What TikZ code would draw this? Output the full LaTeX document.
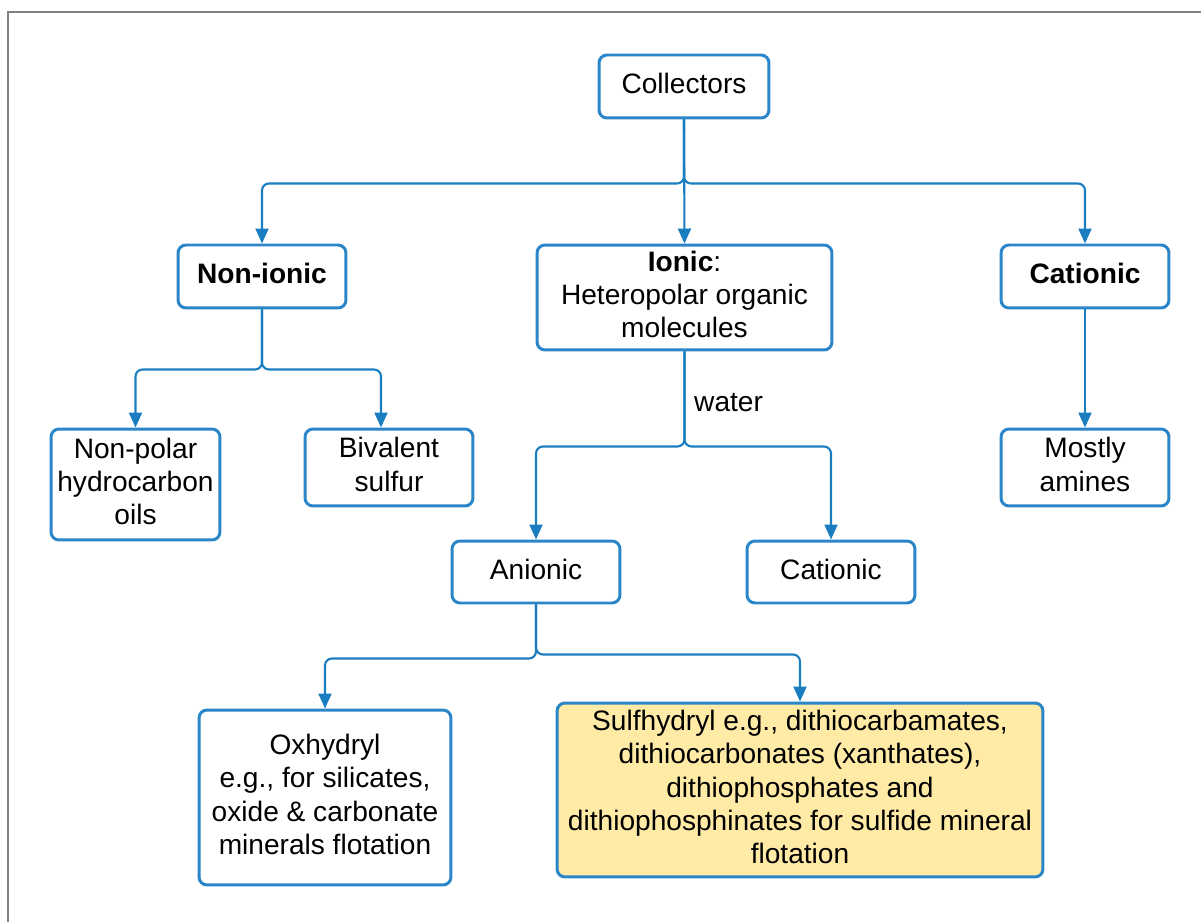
\documentclass[tikz,border=0pt]{standalone}
\usepackage{fontspec}
\setmainfont{Liberation Sans}
\usetikzlibrary{arrows.meta,positioning}

\definecolor{linkblue}{HTML}{1A7DC0}
\definecolor{boxblue}{HTML}{2A86C8}
\definecolor{sulfyellow}{HTML}{FFEAA6}

\tikzset{
  box/.style={draw=boxblue, line width=1.7pt, rounded corners=0.16cm, fill=white,
    align=center, inner sep=2pt, text depth=3.5pt, font=\fontsize{16}{19}\selectfont},
  link/.style={draw=linkblue, line width=1.2pt, rounded corners=0.14cm,
    -{Triangle[width=0.26cm,length=0.3cm]}},
}

\begin{document}
\begin{tikzpicture}[x=0.02cm, y=-0.02cm]
  \useasboundingbox (0,0) rectangle (1201,922);
  \draw[gray, line width=1.2pt] (8,922) -- (8,12) -- (1201,12);

  % top level
  \node[box, minimum width=3.4cm, minimum height=1.26cm] (coll) at (684,86.5) {Collectors};
  \node[box, minimum width=3.36cm, minimum height=1.26cm] (nonion) at (262,276.5) {\textbf{Non-ionic}};
  \node[box, minimum width=5.9cm, minimum height=2.1cm] (ionic) at (684.5,297.5) {\textbf{Ionic}:\\Heteropolar organic\\molecules};
  \node[box, minimum width=3.36cm, minimum height=1.26cm] (cation) at (1085,276.5) {\textbf{Cationic}};

  % second level
  \node[box, minimum width=3.38cm, minimum height=2.22cm] (nonpolar) at (135.5,484.5) {Non-polar\\hydrocarbon\\oils};
  \node[box, minimum width=3.36cm, minimum height=1.54cm] (bival) at (389,467.5) {Bivalent\\sulfur};
  \node[box, minimum width=3.36cm, minimum height=1.54cm] (amines) at (1085,467.5) {Mostly\\amines};
  \node[box, minimum width=3.36cm, minimum height=1.24cm] (anion) at (536,572) {Anionic};
  \node[box, minimum width=3.36cm, minimum height=1.24cm] (cationw) at (831,572) {Cationic};

  % third level
  \node[box, minimum width=5.04cm, minimum height=3.5cm] (oxhyd) at (325,797.5) {Oxhydryl\\e.g., for silicates,\\oxide \& carbonate\\minerals flotation};
  \node[box, fill=sulfyellow, minimum width=9.72cm, minimum height=3.48cm] (sulfhyd) at (800,790) {Sulfhydryl e.g., dithiocarbamates,\\dithiocarbonates (xanthates),\\dithiophosphates and\\dithiophosphinates for sulfide mineral\\flotation};

  % connectors
  \draw[link] (coll.south) -- ++(0,64) -| (nonion.north);
  \draw[link] (coll.south) -- (ionic.north);
  \draw[link] (coll.south) -- ++(0,64) -| (cation.north);

  \draw[link] (nonion.south) -- ++(0,60) -| (nonpolar.north);
  \draw[link] (nonion.south) -- ++(0,60) -| ([xshift=-0.16cm]bival.north);

  \draw[link] (ionic.south) -- ++(0,95) -| (anion.north);
  \draw[link] (ionic.south) -- ++(0,95) -| (cationw.north);
  \node[anchor=west, font=\fontsize{16}{19}\selectfont] (water) at (688,403) {water};

  \draw[link] (cation.south) -- (amines.north);

  \draw[link] (anion.south) -- ++(0,54) -| (oxhyd.north);
  \draw[link] (anion.south) -- ++(0,50) -| (sulfhyd.north);
\end{tikzpicture}
\end{document}
